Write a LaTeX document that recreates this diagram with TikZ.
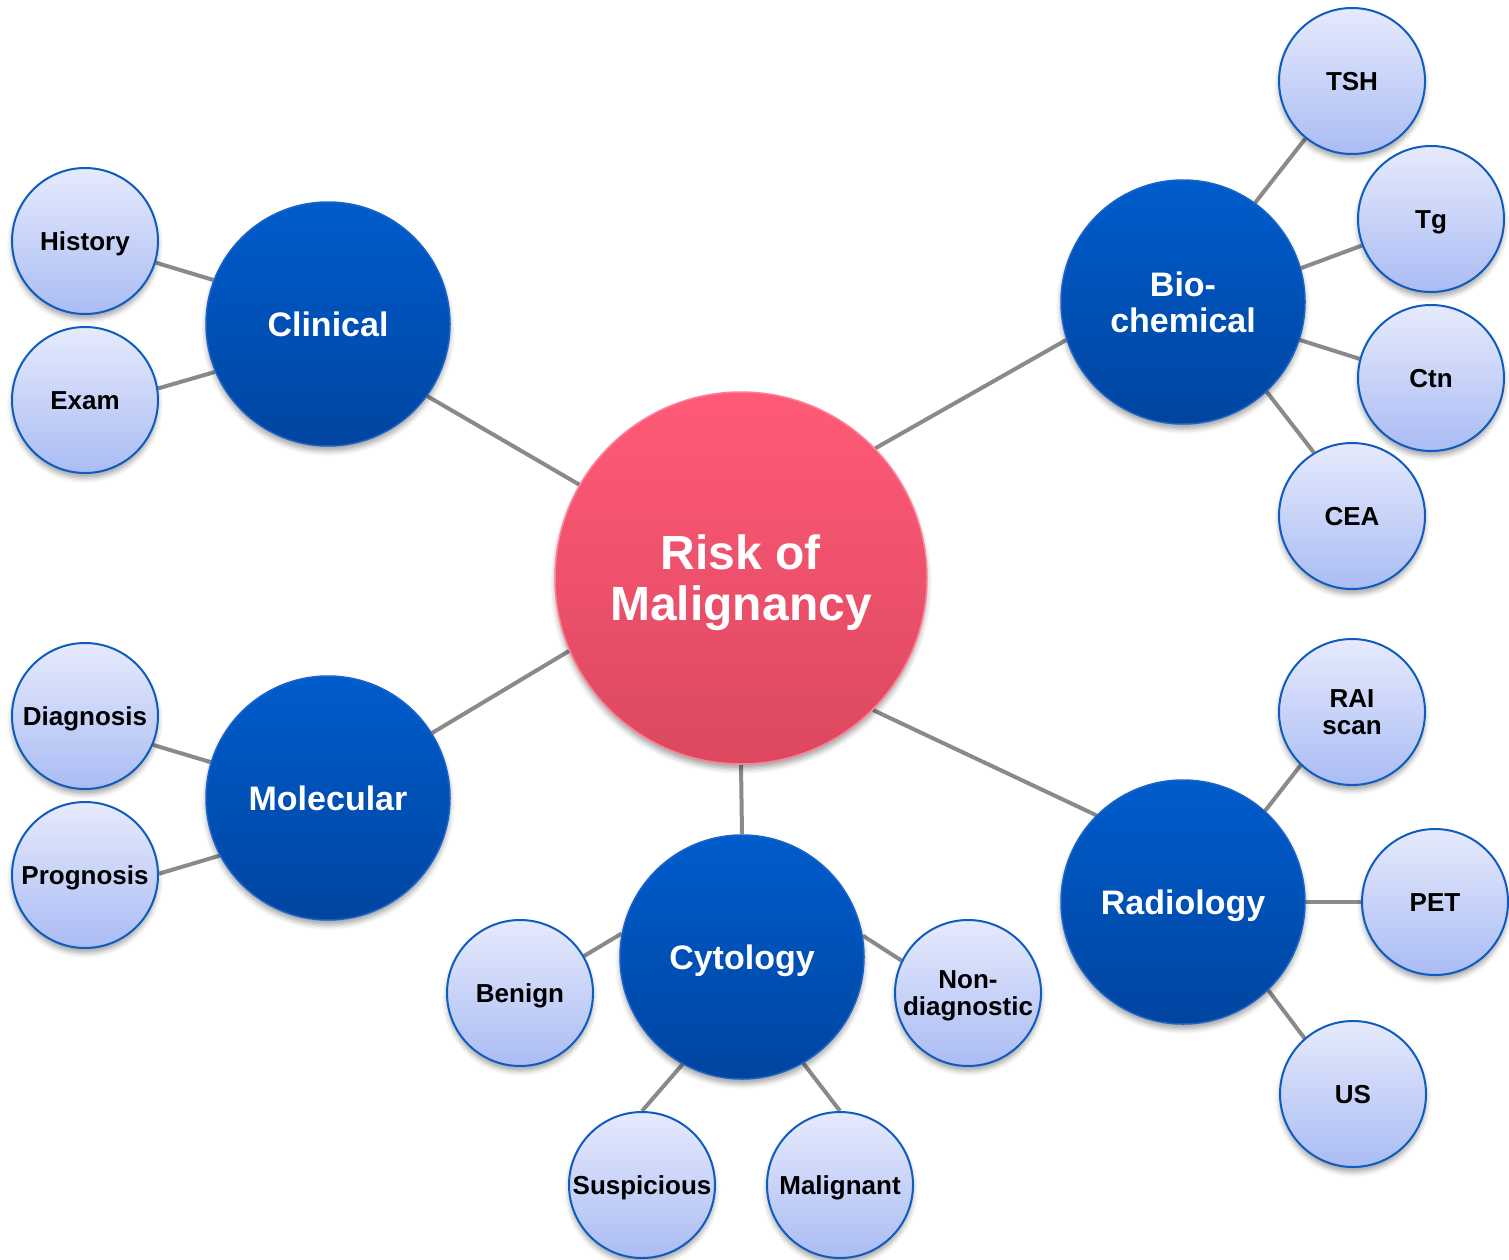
\documentclass[tikz,border=0pt]{standalone}
\usepackage{fontspec}
\setmainfont{Liberation Sans}
\usetikzlibrary{shadows.blur,backgrounds}
\definecolor{linkgray}{HTML}{8A8A8A}
\definecolor{bigtop}{HTML}{005CCC}
\definecolor{bigbot}{HTML}{0045A0}
\definecolor{bigedge}{HTML}{1A63C8}
\definecolor{smalltop}{HTML}{E6EAFC}
\definecolor{smallbot}{HTML}{AABCF4}
\definecolor{smalledge}{HTML}{0E5CC0}
\definecolor{pinktop}{HTML}{FF5A78}
\definecolor{pinkbot}{HTML}{DC4860}
\definecolor{pinkedge}{HTML}{FF8095}
% centred block of lines; baseline of the box = last line's baseline
\newcommand\mylines[1]{\vbox{\halign{\hfil##\hfil\cr#1\crcr}}}
\tikzset{
  link/.style={draw=linkgray, line width=4pt},
  shad/.style={blur shadow={shadow xshift=0pt, shadow yshift=-5pt, shadow blur radius=5pt, shadow opacity=35}},
  centerc/.style={circle, shad, minimum size=372pt, inner sep=0pt, top color=pinktop, bottom color=pinkbot, draw=pinkedge, line width=1.5pt, text=white, font=\fontsize{48}{51}\selectfont\bfseries, text height=85.4pt, text depth=0pt},
  bigc/.style={circle, shad, minimum size=244pt, inner sep=0pt, top color=bigtop, bottom color=bigbot, draw=bigedge, line width=1.5pt, text=white, font=\fontsize{34}{36}\selectfont\bfseries, text height=24.3pt, text depth=0pt},
  smallc/.style={circle, shad, minimum size=146pt, inner sep=0pt, top color=smalltop, bottom color=smallbot, draw=smalledge, line width=2pt, text=black, font=\fontsize{26}{27}\selectfont\bfseries, text height=18.6pt, text depth=0pt},
  bigtwo/.style={text height=60.3pt},
  smalltwo/.style={text height=45.6pt}
}
\begin{document}
\begin{tikzpicture}[x=1pt, y=-1pt]
\useasboundingbox (0,0) rectangle (1509,1260);
% nodes
\node[centerc] (risk) at (741,578) {\mylines{Risk of\cr Malignancy}};
\node[bigc] (clin) at (328,324) {Clinical};
\node[bigc, bigtwo] (bio) at (1183,302) {\mylines{Bio-\cr chemical}};
\node[bigc] (mol) at (328,798) {Molecular};
\node[bigc] (cyt) at (742,957) {Cytology};
\node[bigc] (rad) at (1183,902) {Radiology};
\node[smallc] (hist) at (85,241) {History};
\node[smallc] (exam) at (85,400) {Exam};
\node[smallc] (tsh) at (1352,81) {TSH};
\node[smallc] (tg) at (1431,219) {Tg};
\node[smallc] (ctn) at (1431,378) {Ctn};
\node[smallc] (cea) at (1352,516) {CEA};
\node[smallc, smalltwo] (rai) at (1352,712) {\mylines{RAI\cr scan}};
\node[smallc] (pet) at (1435,902) {PET};
\node[smallc] (us) at (1353,1094) {US};
\node[smallc] (diag) at (85,716) {Diagnosis};
\node[smallc] (prog) at (85,875) {Prognosis};
\node[smallc] (ben) at (520,993) {Benign};
\node[smallc, smalltwo] (non) at (968,993) {\mylines{Non-\cr diagnostic}};
\node[smallc] (sus) at (642,1185) {Suspicious};
\node[smallc] (mal) at (840,1185) {Malignant};
% connectors (behind circles)
\begin{scope}[on background layer]
\draw[link] (risk.150.5) -- (clin.-36);
\draw[link] (risk.44.8) -- (bio.198.7);
\draw[link] (risk.203.4) -- (mol.32.5);
\draw[link] (risk.-90) -- (cyt.90);
\draw[link] (risk.-45.2) -- (rad.135.3);
\draw[link] (clin.159.3) -- (hist.-17);
\draw[link] (clin.-157.9) -- (exam.9.5);
\draw[link] (bio.54) -- (tsh.231);
\draw[link] (bio.16.7) -- (tg.201.4);
\draw[link] (bio.-18.3) -- (ctn.165);
\draw[link] (bio.-47.3) -- (cea.121.8);
\draw[link] (rad.48) -- (rai.226);
\draw[link] (rad.0) -- (pet.180);
\draw[link] (rad.-46.6) -- (us.131.6);
\draw[link] (mol.163.8) -- (diag.-23.1);
\draw[link] (mol.-152.8) -- (prog.1.6);
\draw[link] (cyt.169.6) -- (ben.30.3);
\draw[link] (cyt.10.4) -- (non.154.5);
\draw[link] (cyt.-119.5) -- (sus.90.8);
\draw[link] (cyt.-60.7) -- (mal.90);
\end{scope}
\end{tikzpicture}
\end{document}
